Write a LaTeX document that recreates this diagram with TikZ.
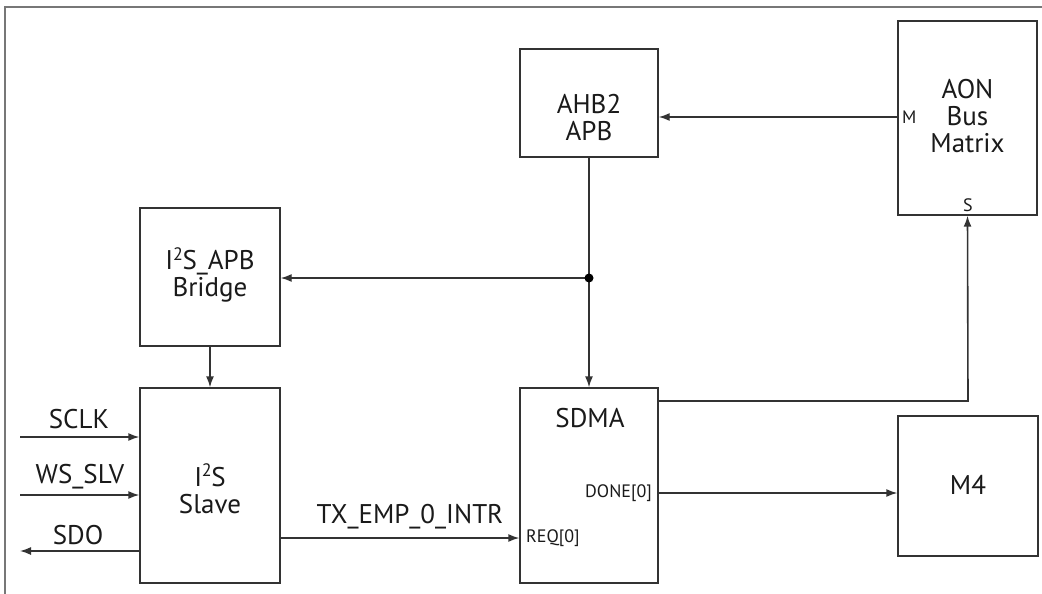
\documentclass[tikz,border=0pt]{standalone}
\usepackage{fontspec}
\setmainfont{PT Sans}
\usetikzlibrary{arrows.meta}
\definecolor{ln}{HTML}{333333}
\definecolor{frm}{HTML}{777777}
\definecolor{txt}{HTML}{1A1A1A}
\newcommand{\isq}{I\kern-0.3pt\raisebox{0.36em}{\fontsize{18}{18}\selectfont 2}\kern-0.3pt S}
\tikzset{
  blk/.style={draw=ln, line width=1.4pt, fill=white, minimum width=#1, inner sep=0pt},
  big/.style={font=\fontsize{27}{27}\selectfont, text=txt, align=center, inner sep=0pt},
  port/.style={font=\fontsize{18}{20}\selectfont, text=txt, inner sep=0pt},
  wire/.style={draw=ln, line width=1.4pt},
  arr/.style={wire, -{Latex[length=11pt,width=8pt]}},
}
\begin{document}
\begin{tikzpicture}[x=1pt,y=-1pt]
\useasboundingbox (0,0) rectangle (1042,594);
\fill[white] (0,0) rectangle (1042,594);
\draw[frm, line width=2pt] (5,594) -- (5,7) -- (1042,7);

% boxes
\node[blk=138pt, minimum height=108pt] (ahb) at (589,103) {};
\node[blk=139pt, minimum height=194pt] (aon) at (967.5,118) {};
\node[blk=140pt, minimum height=138pt] (brg) at (210,277) {};
\node[blk=140pt, minimum height=195pt] (slv) at (210,485.5) {};
\node[blk=138pt, minimum height=195pt] (sdma) at (589,485.5) {};
\node[blk=140pt, minimum height=140pt] (m4) at (968,486) {};

% box texts
\node[big] (tahb) at (589,117) {AHB2\\APB};
\node[big] (taon) at (967.5,116) {AON\\Bus\\Matrix};
\node[big] (tbrg) at (210,275) {\isq\_APB\\Bridge};
\node[big] (tslv) at (210,489) {\isq\\Slave};
\node[big] (tsdma) at (590,418) {SDMA};
\node[big] (tm4) at (968,485) {M4};

% port labels
\node[port, anchor=west] (pm) at (902,117) {M};
\node[port] (ps) at (968,205) {S};
\node[port, anchor=west] (preq) at (526,538) {REQ[0]};
\node[port, anchor=east] (pdone) at (652,493) {DONE[0]};

% coordinates
\coordinate (dot) at (589,278);
\coordinate (sclkin) at (20,437);
\coordinate (wsin) at (20,495);
\coordinate (sdoout) at (20,551);
\coordinate (bend) at (968,401);

% connectors
\draw[arr] (aon.west |- pm) -- (ahb.east |- pm);
\draw[wire] (ahb.south) -- (dot);
\draw[arr] (dot) -- (sdma.north);
\draw[arr] (dot) -- (brg.east |- dot);
\fill[black] (dot) circle (4.5pt);
\draw[arr] (brg.south) -- (slv.north);
\draw[arr] (sclkin) -- (slv.west |- sclkin);
\draw[arr] (wsin) -- (slv.west |- wsin);
\draw[arr] (slv.west |- sdoout) -- (sdoout);
\draw[arr] (slv.east |- preq) -- (sdma.west |- preq);
\draw[arr] (sdma.east |- pdone) -- (m4.west |- pdone);
\draw[arr, line width=1.6pt] (sdma.east |- bend) -- (bend) -- (aon.south);

% signal labels
\node[big] (lsclk) at (79,419) {SCLK};
\node[big] (lws) at (80,477) {WS\_SLV};
\node[big] (lsdo) at (78,535) {SDO};
\node[big] (ltx) at (410,517) {TX\_EMP\_0\_INTR};
\end{tikzpicture}
\end{document}
